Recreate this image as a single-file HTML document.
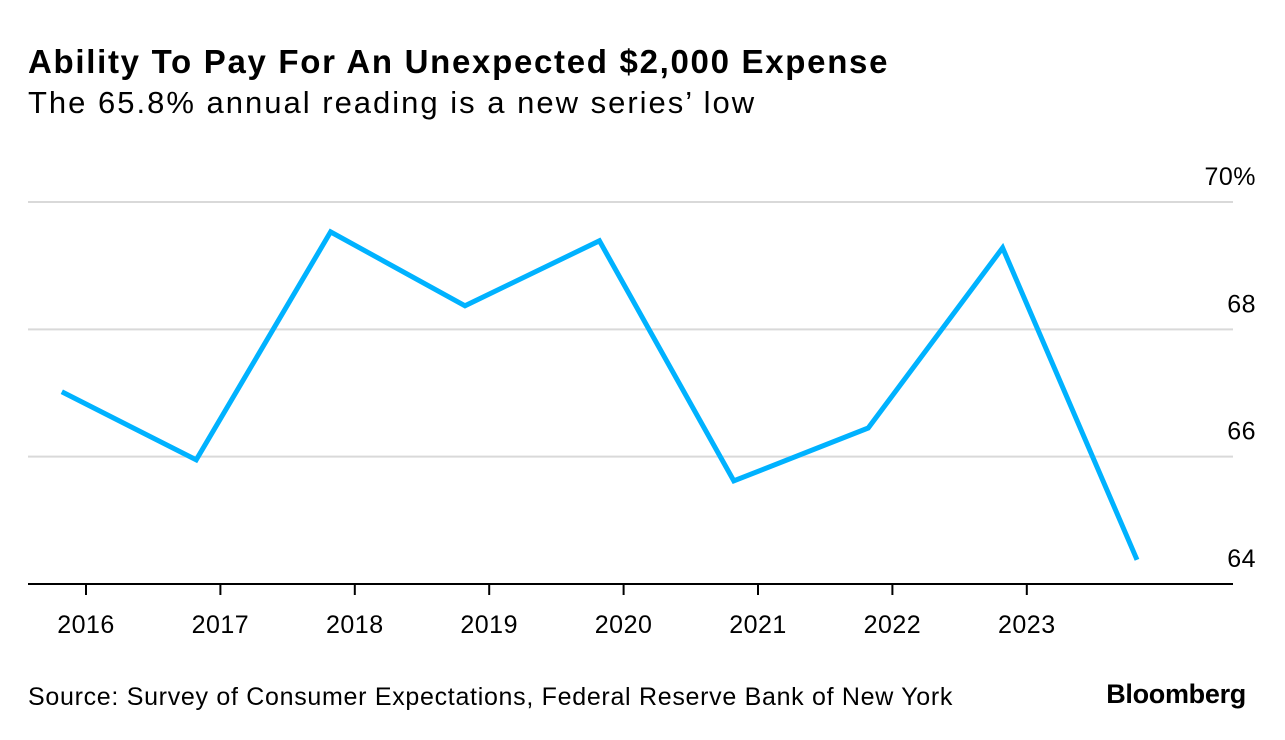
<!DOCTYPE html>
<html><head><meta charset="utf-8"><style>
body{margin:0;background:#fff;font-family:"Liberation Sans",sans-serif;}
svg{display:block}
</style></head><body>
<svg width="1285" height="740">
<text x="28" y="73" font-size="33" font-weight="bold" letter-spacing="1.7" fill="#000">Ability To Pay For An Unexpected $2,000 Expense</text>
<text x="28" y="113" font-size="31" letter-spacing="2" fill="#000">The 65.8% annual reading is a new series’ low</text>
<g id="grid"></g>
<g id="xaxis"></g>
<polyline id="line" fill="none" stroke="#00b2ff" stroke-width="5" stroke-linejoin="miter"/>
<text x="28" y="705" font-size="25" letter-spacing="0.7" fill="#000">Source: Survey of Consumer Expectations, Federal Reserve Bank of New York</text>
<text x="1246" y="703" font-size="27" font-weight="bold" text-anchor="end" fill="#000" letter-spacing="-0.3">Bloomberg</text>
</svg>
<script>
const dates=[2015.82,2016.82,2017.82,2018.82,2019.82,2020.82,2021.82,2022.82,2023.82];
const values=[67.02,65.95,69.53,68.37,69.39,65.62,66.45,69.28,64.38];
const yTicks=[64,66,68,70];
const yTickLabels=["64","66","68","70%"];
const xTicks=[2016,2017,2018,2019,2020,2021,2022,2023];
const NS="http://www.w3.org/2000/svg";
function x(t){return 86+(t-2016)*134.4;}
function y(v){return 584-(v-64)*63.67;}
const grid=document.getElementById('grid');
yTicks.forEach((v,i)=>{
  if(v!==64){
    const l=document.createElementNS(NS,'line');
    
    
    l.setAttribute('x1',28);l.setAttribute('x2',1233);
    l.setAttribute('y1',y(v));l.setAttribute('y2',y(v));
    l.setAttribute('stroke','#d9d9d9');l.setAttribute('stroke-width',2);
    grid.appendChild(l);
  }
  const t=document.createElementNS(NS,'text');
  
  
  t.setAttribute('x',1256);t.setAttribute('y',y(v)-17);
  t.setAttribute('text-anchor','end');t.setAttribute('font-size','25');
  t.setAttribute('letter-spacing','0.5');
  t.textContent=yTickLabels[i];
  grid.appendChild(t);
});
const xa=document.getElementById('xaxis');
const ax=document.createElementNS(NS,'line');


ax.setAttribute('x1',28);ax.setAttribute('x2',1233);ax.setAttribute('y1',584);ax.setAttribute('y2',584);
ax.setAttribute('stroke','#000');ax.setAttribute('stroke-width',2);
xa.appendChild(ax);
xTicks.forEach(t=>{
  const tk=document.createElementNS(NS,'line');
  
  
  tk.setAttribute('x1',x(t));tk.setAttribute('x2',x(t));tk.setAttribute('y1',584);tk.setAttribute('y2',595);
  tk.setAttribute('stroke','#000');tk.setAttribute('stroke-width',2);
  xa.appendChild(tk);
  const lb=document.createElementNS(NS,'text');
  
  
  lb.setAttribute('x',x(t));lb.setAttribute('y',633);lb.setAttribute('text-anchor','middle');
  lb.setAttribute('font-size','25');
  lb.setAttribute('letter-spacing','0.5');
  lb.textContent=t;
  xa.appendChild(lb);
});
document.getElementById('line').setAttribute('points',dates.map((d,i)=>x(d)+','+y(values[i])).join(' '));
</script>
</body></html>
